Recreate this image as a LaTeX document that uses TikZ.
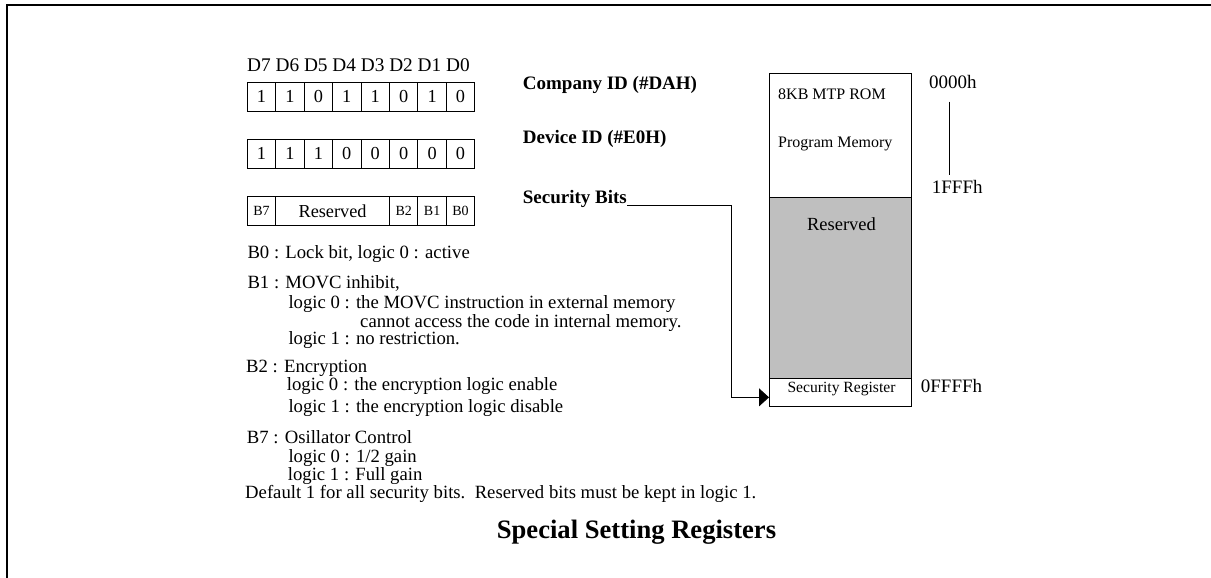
\documentclass[tikz,border=0pt]{standalone}
\usepackage{fontspec}
\setmainfont{Liberation Serif}
\usetikzlibrary{arrows.meta,calc}
\newcommand\fsz[1]{\fontsize{#1}{#1}\selectfont}
\begin{document}
\begin{tikzpicture}[x=1pt,y=-1pt,
  cell/.style={draw,line width=0.9pt,inner sep=0pt,minimum width=28.43pt,minimum height=28.7pt,font=\fsz{18.3}},
  scell/.style={cell,font=\fsz{14}},
  txt/.style={anchor=mid west,inner sep=0pt,font=\fsz{18.7}},
  btxt/.style={anchor=mid west,inner sep=0pt,font=\bfseries\fsz{19}},
  mem/.style={draw,line width=1pt,inner sep=0pt,minimum width=142pt},
  memtxt/.style={anchor=mid west,inner sep=0pt,font=\fsz{16}},
  addr/.style={anchor=mid west,inner sep=0pt,font=\fsz{19}},
  arr/.style={line width=0.9pt,-{Triangle[length=10pt,width=18pt]}}
]
\useasboundingbox (0,0) rectangle (1211,578);
% frame
\draw[line width=2.5pt] (7,578) -- (7,5) -- (1211,5);

% header
\node[anchor=base west,inner sep=0pt,font=\fsz{19.3}] (hdr) at (247,71.7) {D7 D6 D5 D4 D3 D2 D1 D0};

% row 1
\foreach \v [count=\i from 0] in {1,1,0,1,1,0,1,0}
  \node[cell] (ra\i) at (247.3+28.43*\i+14.215,96.7) {\v};
% row 2
\foreach \v [count=\i from 0] in {1,1,1,0,0,0,0,0}
  \node[cell] (rb\i) at (247.3+28.43*\i+14.215,153.8) {\v};
% row 3
\node[scell] (b7) at (247.3+14.215,210.9) {B7};
\node[cell,minimum width=113.72pt] (bres) at (247.3+28.43+56.86,210.9) {Reserved};
\node[scell] (b2) at (247.3+28.43*5+14.215,210.9) {B2};
\node[scell] (b1) at (247.3+28.43*6+14.215,210.9) {B1};
\node[scell] (b0) at (247.3+28.43*7+14.215,210.9) {B0};

% labels
\node[btxt] (cid) at (522.7,87) {Company ID (\#DAH)};
\node[btxt] (did) at (522.7,141.7) {Device ID (\#E0H)};
\node[btxt] (secbits) at (522.7,201.7) {Security Bits};

% memory map
\node[mem,minimum height=124pt,anchor=north west] (prog) at (769,72.7) {};
\node[mem,minimum height=181pt,anchor=north west,fill=black!25] (mres) at (769,196.7) {};
\node[mem,minimum height=28.3pt,anchor=north west] (secreg) at (769,377.7) {};
\node[memtxt] (rom) at (778,97.3) {8KB MTP ROM};
\node[memtxt] (pm) at (778,145) {Program Memory};
\node[anchor=mid,inner sep=0pt,font=\fsz{18.5}] (restxt) at (841.5,228) {Reserved};
\node[anchor=mid,inner sep=0pt,font=\fsz{15.6}] (srtxt) at (841.5,390.5) {Security Register};

% addresses
\node[addr] (a0) at (929,86.7) {0000h};
\node[addr] (a1) at (931.7,191.7) {1FFFh};
\node[addr] (a2) at (920.7,390.7) {0FFFFh};
\coordinate (lt) at (949.3,101.7);
\coordinate (lb) at (949.3,175);
\draw[line width=0.9pt] (lt) -- (lb);

% arrow
\coordinate (sbend) at (secbits.base east);
\draw[arr] ([yshift=-1pt]sbend) -- ([yshift=-1pt]sbend -| 731.3,0) |- ([yshift=-5pt]secreg.west);

% description
\node[txt] (d1) at (247.3,256.7) {B0 : Lock bit, logic 0 : active};
\node[txt] (d2) at (247.3,286.7) {B1 : MOVC inhibit,};
\node[txt] (d3) at (288.3,306) {logic 0 : the MOVC instruction in external memory};
\node[txt] (d4) at (360,325) {cannot access the code in internal memory.};
\node[txt] (d5) at (288.3,342.7) {logic 1 : no restriction.};
\node[txt] (d6) at (246,370) {B2 : Encryption};
\node[txt] (d7) at (286.7,388.3) {logic 0 : the encryption logic enable};
\node[txt] (d8) at (288.3,410) {logic 1 : the encryption logic disable};
\node[txt] (d9) at (246.7,441.7) {B7 : Osillator Control};
\node[txt] (d10) at (288.3,460) {logic 0 : 1/2 gain};
\node[txt] (d11) at (287.7,478.3) {logic 1 : Full gain};
\node[txt] (d12) at (245,496.7) {Default 1 for all security bits.\ \ Reserved bits must be kept in logic 1.};

% title
\node[anchor=mid,inner sep=0pt,font=\bfseries\fsz{26.6}] (title) at (636.5,536.7) {Special Setting Registers};
\end{tikzpicture}
\end{document}
